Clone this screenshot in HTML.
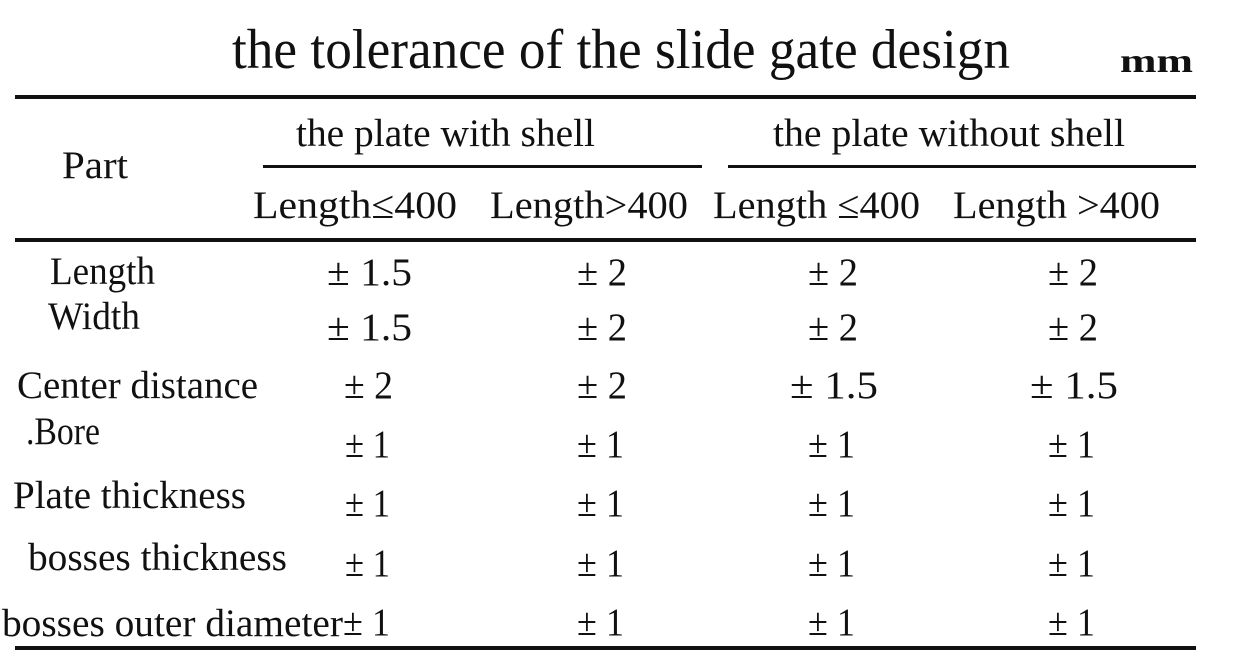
<!DOCTYPE html>
<html><head><meta charset="utf-8"><style>
html,body{margin:0;padding:0;background:#fff;}
svg{display:block;}
text{fill:#111;font-family:"Liberation Serif",serif;}
</style></head><body>
<svg width="1243" height="659" viewBox="0 0 1243 659" xmlns="http://www.w3.org/2000/svg">
<rect width="1243" height="659" fill="#fff"/>
<text x="232" y="68" font-size="56" font-family="DejaVu Sans" textLength="778" lengthAdjust="spacingAndGlyphs">the tolerance of the slide gate design</text>
<text x="1120" y="72" font-size="34" font-weight="bold" textLength="73" lengthAdjust="spacingAndGlyphs">mm</text>
<rect x="15" y="95" width="1181" height="4" fill="#111"/>
<rect x="263" y="165" width="439" height="3" fill="#111"/>
<rect x="728" y="165" width="468" height="3" fill="#111"/>
<rect x="15" y="238" width="1181" height="4" fill="#111"/>
<rect x="15" y="646" width="1181" height="4" fill="#111"/>
<g font-size="39">
<text x="62" y="178" textLength="66" lengthAdjust="spacingAndGlyphs">Part</text>
<text x="296" y="146" textLength="299" lengthAdjust="spacingAndGlyphs">the plate with shell</text>
<text x="773" y="146" textLength="352" lengthAdjust="spacingAndGlyphs">the plate without shell</text>
<text x="253" y="218" textLength="204" lengthAdjust="spacingAndGlyphs">Length≤400</text>
<text x="490" y="218" textLength="198" lengthAdjust="spacingAndGlyphs">Length&gt;400</text>
<text x="713" y="218" textLength="207" lengthAdjust="spacingAndGlyphs">Length ≤400</text>
<text x="953" y="218" textLength="207" lengthAdjust="spacingAndGlyphs">Length &gt;400</text>

<text x="50" y="284" textLength="105" lengthAdjust="spacingAndGlyphs">Length</text>
<text x="48" y="329" textLength="92" lengthAdjust="spacingAndGlyphs">Width</text>
<text x="17" y="398" textLength="241" lengthAdjust="spacingAndGlyphs">Center distance</text>
<text x="26" y="444" textLength="74" lengthAdjust="spacingAndGlyphs">.Bore</text>
<text x="13" y="508" textLength="233" lengthAdjust="spacingAndGlyphs">Plate thickness</text>
<text x="28" y="570" textLength="259" lengthAdjust="spacingAndGlyphs">bosses thickness</text>
<text x="2" y="636" textLength="341" lengthAdjust="spacingAndGlyphs">bosses outer diameter</text>

<text x="327" y="285" textLength="85" lengthAdjust="spacingAndGlyphs">± 1.5</text>
<text x="577" y="285" textLength="50" lengthAdjust="spacingAndGlyphs">± 2</text>
<text x="808" y="285" textLength="50" lengthAdjust="spacingAndGlyphs">± 2</text>
<text x="1048" y="285" textLength="50" lengthAdjust="spacingAndGlyphs">± 2</text>

<text x="327" y="340" textLength="85" lengthAdjust="spacingAndGlyphs">± 1.5</text>
<text x="577" y="340" textLength="50" lengthAdjust="spacingAndGlyphs">± 2</text>
<text x="808" y="340" textLength="50" lengthAdjust="spacingAndGlyphs">± 2</text>
<text x="1048" y="340" textLength="50" lengthAdjust="spacingAndGlyphs">± 2</text>

<text x="344" y="398" textLength="49" lengthAdjust="spacingAndGlyphs">± 2</text>
<text x="577" y="398" textLength="50" lengthAdjust="spacingAndGlyphs">± 2</text>
<text x="790" y="398" textLength="88" lengthAdjust="spacingAndGlyphs">± 1.5</text>
<text x="1030" y="398" textLength="88" lengthAdjust="spacingAndGlyphs">± 1.5</text>

<text x="345" y="457" textLength="45" lengthAdjust="spacingAndGlyphs">± 1</text>
<text x="577" y="457" textLength="47" lengthAdjust="spacingAndGlyphs">± 1</text>
<text x="808" y="457" textLength="47" lengthAdjust="spacingAndGlyphs">± 1</text>
<text x="1048" y="457" textLength="47" lengthAdjust="spacingAndGlyphs">± 1</text>

<text x="345" y="516" textLength="45" lengthAdjust="spacingAndGlyphs">± 1</text>
<text x="577" y="516" textLength="47" lengthAdjust="spacingAndGlyphs">± 1</text>
<text x="808" y="516" textLength="47" lengthAdjust="spacingAndGlyphs">± 1</text>
<text x="1048" y="516" textLength="47" lengthAdjust="spacingAndGlyphs">± 1</text>

<text x="345" y="576" textLength="45" lengthAdjust="spacingAndGlyphs">± 1</text>
<text x="577" y="576" textLength="47" lengthAdjust="spacingAndGlyphs">± 1</text>
<text x="808" y="576" textLength="47" lengthAdjust="spacingAndGlyphs">± 1</text>
<text x="1048" y="576" textLength="47" lengthAdjust="spacingAndGlyphs">± 1</text>

<text x="343" y="635" textLength="47" lengthAdjust="spacingAndGlyphs">± 1</text>
<text x="577" y="635" textLength="47" lengthAdjust="spacingAndGlyphs">± 1</text>
<text x="808" y="635" textLength="47" lengthAdjust="spacingAndGlyphs">± 1</text>
<text x="1048" y="635" textLength="47" lengthAdjust="spacingAndGlyphs">± 1</text>
</g>
</svg>
</body></html>
